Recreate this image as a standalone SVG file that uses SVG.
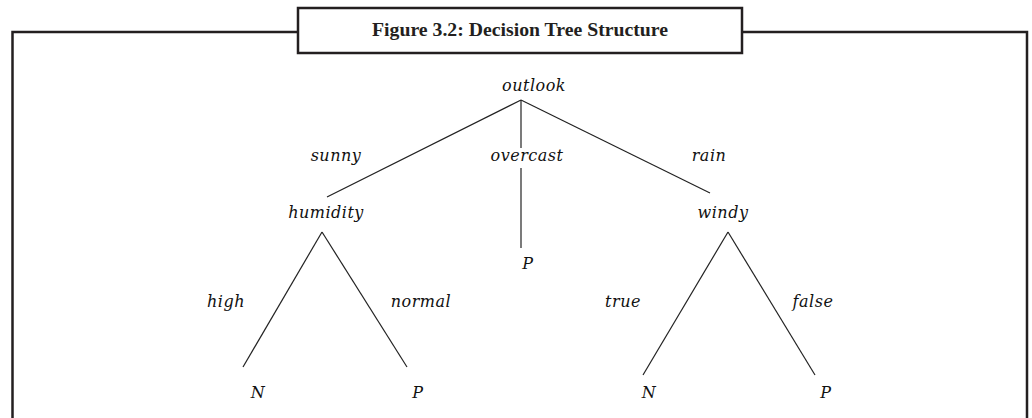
<svg xmlns="http://www.w3.org/2000/svg" width="1032" height="418" viewBox="0 0 1032 418">
<style>
.frame{fill:none;stroke:#231f20;stroke-width:2.5}
.edge{stroke:#222;stroke-width:1.2;fill:none}
.lbl{font-family:"DejaVu Serif",serif;font-style:italic;font-size:16px;letter-spacing:0.5px;fill:#111;text-anchor:middle}
.title{font-family:"Liberation Serif",serif;font-weight:bold;font-size:18px;fill:#231f20;text-anchor:middle}
</style>
<rect width="1032" height="418" fill="#fff"/>
<g id="frame">
<path class="frame" d="M12.5,418 V32 H298 M742,32 H1027 V418"/>
<rect class="frame" x="298" y="8" width="444" height="45" fill="#fff"/>
<text class="title" x="520" y="36" textLength="296" lengthAdjust="spacingAndGlyphs">Figure 3.2: Decision Tree Structure</text>
</g>
<g id="connectors">
<line class="edge" x1="521" y1="100" x2="327" y2="197"/>
<line class="edge" x1="521" y1="100" x2="710" y2="193"/>
<line class="edge" x1="521" y1="100" x2="521" y2="148"/>
<line class="edge" x1="521" y1="168" x2="521" y2="248"/>
<line class="edge" x1="322" y1="232" x2="243" y2="367"/>
<line class="edge" x1="322" y1="232" x2="407" y2="367"/>
<line class="edge" x1="728" y1="232" x2="643" y2="375"/>
<line class="edge" x1="728" y1="232" x2="815" y2="375"/>
</g>
<g id="edge-labels">
<text class="lbl" x="336" y="161">sunny</text>
<text class="lbl" x="527" y="161">overcast</text>
<text class="lbl" x="709" y="161">rain</text>
<text class="lbl" x="226" y="307">high</text>
<text class="lbl" x="421" y="307">normal</text>
<text class="lbl" x="623" y="307">true</text>
<text class="lbl" x="813" y="307">false</text>
</g>
<g id="n-outlook"><text class="lbl" x="534" y="91">outlook</text></g>
<g id="n-humidity"><text class="lbl" x="326" y="218">humidity</text></g>
<g id="n-windy"><text class="lbl" x="723" y="218">windy</text></g>
<g id="n-P-overcast"><text class="lbl" x="528" y="269">P</text></g>
<g id="n-N-high"><text class="lbl" x="258" y="398">N</text></g>
<g id="n-P-normal"><text class="lbl" x="418" y="398">P</text></g>
<g id="n-N-true"><text class="lbl" x="649" y="398">N</text></g>
<g id="n-P-false"><text class="lbl" x="826" y="398">P</text></g>
</svg>
